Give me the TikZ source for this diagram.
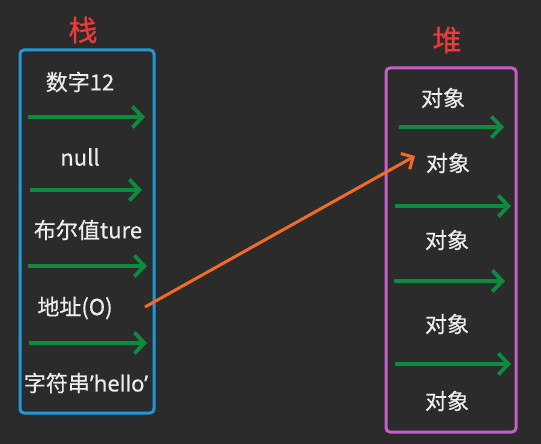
\documentclass[tikz,border=0pt]{standalone}
\usepackage{fontspec}
\setmainfont{Noto Sans CJK SC}
\newfontfamily\cjkm[FakeBold=0.6]{Noto Sans CJK SC}
\newfontfamily\latf[FakeBold=0.6]{Noto Sans}
\usetikzlibrary{arrows.meta}
\definecolor{bg}{HTML}{2B2B2B}
\definecolor{stackc}{HTML}{1E9AD6}
\definecolor{heapc}{HTML}{C560C8}
\definecolor{greenc}{HTML}{0E8B3E}
\definecolor{orangec}{HTML}{F26B2A}
\definecolor{titlec}{HTML}{F03A3A}
\definecolor{txt}{HTML}{ECECEC}
\tikzset{
  lbl/.style={text=txt, font=\cjkm\fontsize{22}{24}\selectfont, inner sep=0pt},
  ttl/.style={text=titlec, font=\cjkm\fontsize{29}{31}\selectfont, inner sep=0pt},
  gar/.style={draw=greenc, line width=3.8pt, -{Straight Barb[length=10pt,width=21pt,line width=3.8pt]}},
  oar/.style={draw=orangec, line width=3pt, -{Straight Barb[length=9pt,width=18pt,line width=3pt]}},
  boxs/.style={line width=3pt, rounded corners=4pt}
}
\begin{document}
\begin{tikzpicture}[x=1pt,y=-1pt]
\fill[bg] (0,0) rectangle (541,444);
\useasboundingbox (0,0) rectangle (541,444);
% titles
\node[ttl] (tstack) at (83,30) {栈};
\node[ttl] (theap) at (447,40) {堆};
% boxes
\draw[boxs, draw=stackc] (20,50) rectangle (154,413);
\draw[boxs, draw=heapc] (386,68) rectangle (516,432);
% stack labels
\node[lbl] (s1) at (80,82) {数字12};
\node[lbl] (s2) at (80,157) {null};
\node[lbl] (s3) at (88,230) {布尔值ture};
\node[lbl] (s4) at (75,308) {地址(O)};
\node[lbl] (s5) at (86,383) {字符串{\latf ’hello’}};
% stack arrows
\coordinate (a1s) at (28,117); \coordinate (a1e) at (145,117);
\coordinate (a2s) at (30,190); \coordinate (a2e) at (142,190);
\coordinate (a3s) at (28,266); \coordinate (a3e) at (147,266);
\coordinate (a4s) at (29,343); \coordinate (a4e) at (147,343);
\draw[gar] (a1s) -- (a1e);
\draw[gar] (a2s) -- (a2e);
\draw[gar] (a3s) -- (a3e);
\draw[gar] (a4s) -- (a4e);
% heap labels
\node[lbl] (h1) at (443,98) {对象};
\node[lbl] (h2) at (448,163) {对象};
\node[lbl] (h3) at (447,240) {对象};
\node[lbl] (h4) at (447,324) {对象};
\node[lbl] (h5) at (447,401) {对象};
% heap arrows
\coordinate (b1s) at (399,127); \coordinate (b1e) at (504,127);
\coordinate (b2s) at (395,206); \coordinate (b2e) at (511,206);
\coordinate (b3s) at (394,281); \coordinate (b3e) at (505,281);
\coordinate (b4s) at (395,364); \coordinate (b4e) at (511,364);
\draw[gar] (b1s) -- (b1e);
\draw[gar] (b2s) -- (b2e);
\draw[gar] (b3s) -- (b3e);
\draw[gar] (b4s) -- (b4e);
% orange pointer
\coordinate (os) at (145,307);
\draw[oar] (os) -- ([xshift=-33pt,yshift=7pt]h2.center);
\end{tikzpicture}
\end{document}
